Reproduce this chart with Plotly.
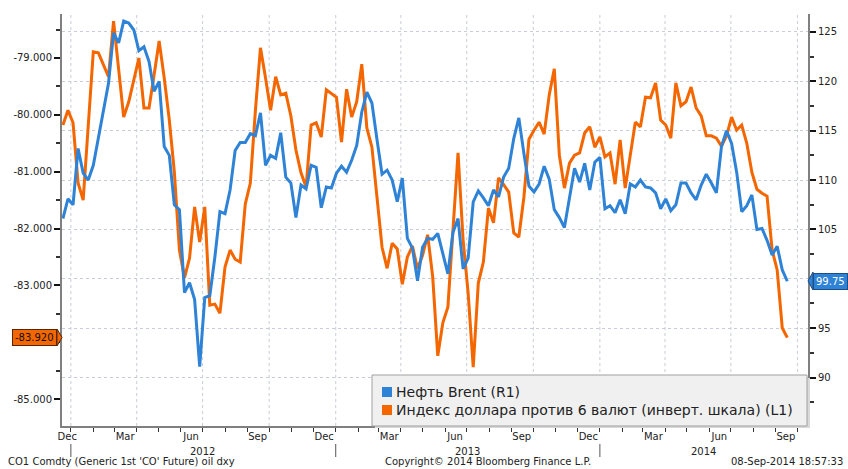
import plotly.graph_objects as go
import pandas as pd

# ---------------- data (weekly) ----------------
dates = pd.date_range('2011-12-21', periods=144, freq='7D')

brent = [106.1, 108.1, 107.5, 113.2, 110.7, 110.0, 111.5, 114.4, 117.1, 119.8,
         124.9, 123.9, 126.1, 125.9, 125.2, 123.1, 123.5, 122.0, 119.0, 120.0,
         113.4, 112.5, 107.5, 107.0, 98.6, 99.6, 97.9, 91.1, 98.1, 98.3,
         102.2, 106.8, 106.6, 109.0, 113.0, 113.8, 113.8, 114.7, 114.5, 116.8,
         111.5, 112.5, 112.2, 114.8, 110.3, 109.7, 106.2, 109.5, 109.1, 111.5,
         111.3, 107.2, 109.3, 109.2, 110.7, 111.4, 110.8, 112.0, 113.5, 116.9,
         118.9, 117.8, 114.1, 110.6, 111.0, 110.0, 107.8, 110.2, 104.1, 103.1,
         99.8, 103.2, 104.1, 104.0, 104.6, 102.6, 100.5, 104.7, 106.1, 101.0,
         102.1, 107.8, 108.9, 108.2, 107.4, 109.0, 108.3, 110.3, 111.2, 114.2,
         116.3, 112.7, 109.4, 108.8, 109.6, 111.4, 110.1, 107.0, 106.2, 105.2,
         108.3, 111.2, 109.8, 111.7, 109.0, 111.8, 112.3, 107.1, 107.4, 106.7,
         108.0, 106.6, 109.6, 109.3, 110.0, 109.3, 109.2, 108.7, 107.1, 108.1,
         106.9, 107.5, 109.7, 109.7, 108.7, 108.0, 109.5, 110.6, 109.7, 108.7,
         113.4, 115.0, 113.7, 110.8, 106.8, 107.4, 108.5, 105.0, 105.1, 103.9,
         102.4, 103.3, 100.9, 99.75]

dxy_inv = [-80.18, -79.92, -80.14, -81.20, -81.50, -80.21, -78.89, -78.91, -79.12, -79.33,
           -78.35, -79.25, -80.04, -79.77, -79.39, -79.00, -79.88, -79.88, -79.30, -78.70,
           -79.35, -80.09, -81.01, -82.38, -82.87, -82.52, -81.62, -82.24, -81.62, -83.35,
           -83.33, -83.49, -82.68, -82.38, -82.54, -82.59, -81.57, -81.20, -79.92, -78.82,
           -79.35, -79.92, -79.33, -79.65, -79.62, -80.02, -80.62, -81.02, -81.27, -80.18,
           -80.14, -80.39, -79.56, -79.62, -79.69, -80.48, -79.55, -80.04, -79.77, -79.11,
           -80.23, -80.57, -81.45, -82.33, -82.70, -82.26, -82.36, -82.98, -82.50, -82.31,
           -82.71, -82.47, -82.11, -82.85, -84.24, -83.66, -83.38, -82.08, -80.67, -82.20,
           -83.14, -84.44, -82.96, -82.59, -81.64, -81.90, -81.11, -81.23, -81.36, -82.08,
           -82.15, -81.45, -80.43, -80.27, -80.13, -80.34, -79.65, -79.19, -80.71, -81.29,
           -80.85, -80.71, -80.67, -80.32, -80.21, -80.57, -80.39, -80.74, -80.67, -81.22,
           -80.44, -81.29, -80.67, -80.13, -80.21, -79.69, -79.70, -79.44, -80.09, -80.18,
           -80.41, -79.44, -79.84, -79.77, -79.51, -79.88, -80.02, -80.37, -80.37, -80.41,
           -80.55, -80.37, -80.04, -80.27, -80.18, -80.50, -81.01, -81.31, -81.38, -81.43,
           -82.38, -82.73, -83.75, -83.92]

series_names = ['Нефть Brent (R1)', 'Индекс доллара против 6 валют (инверт. шкала) (L1)']

month_tick_dates = ['2011-12-27', '2012-03-16', '2012-06-15', '2012-09-15',
                    '2012-12-16', '2013-03-16', '2013-06-15', '2013-09-15',
                    '2013-12-16', '2014-03-16', '2014-06-15', '2014-09-15']
month_tick_labels = ['Dec', 'Mar', 'Jun', 'Sep', 'Dec', 'Mar', 'Jun', 'Sep',
                     'Dec', 'Mar', 'Jun', 'Sep']
year_labels = ['2012', '2013', '2014']
year_label_dates = ['2012-07-01', '2013-07-02', '2014-05-24']
year_starts = ['2012-01-01', '2013-01-01', '2014-01-01']

left_ticks = [-85, -84, -83, -82, -81, -80, -79]
# the -84.000 label sits under the last-value tag in the reference
left_tick_labels = ['-85.000', '', '-83.000', '-82.000', '-81.000', '-80.000', '-79.000']
right_ticks = [90, 95, 100, 105, 110, 115, 120, 125]
# the 100 label sits under the last-value tag in the reference
right_tick_labels = ['90', '95', '', '105', '110', '115', '120', '125']

last_brent_label = '99.75'
last_dxy_label = '-83.920'

footer_left = "CO1 Comdty (Generic 1st 'CO' Future) oil dxy"
footer_mid = 'Copyright© 2014 Bloomberg Finance L.P.'
footer_right = '08-Sep-2014 18:57:33'

# ---------------- styling ----------------
BLUE = '#2f83d6'
ORANGE = '#f36600'
GRID = '#c8ccd8'
AXIS = '#808080'
FONT = 'DejaVu Sans'
TXT = '#222222'

W, H = 848, 469
ML, MR, MT, MB = 62, 40, 14, 43
PW, PH = W - ML - MR, H - MT - MB


def px(x):
    return (x - ML) / PW


def py(y):
    return (MT + PH - y) / PH


month_starts = pd.date_range('2012-01-01', '2014-10-01', freq='MS')
quarter_starts = pd.date_range('2012-01-01', '2014-10-01', freq='QS')

fig = go.Figure()
fig.add_trace(go.Scatter(x=dates, y=dxy_inv, mode='lines', name=series_names[1],
                         line=dict(color=ORANGE, width=3), yaxis='y', showlegend=False))
fig.add_trace(go.Scatter(x=dates, y=brent, mode='lines', name=series_names[0],
                         line=dict(color=BLUE, width=3), yaxis='y2', showlegend=False))

shapes = []
for q in quarter_starts:
    shapes.append(dict(type='line', xref='x', yref='paper', x0=q, x1=q, y0=0, y1=1,
                       line=dict(color=GRID, width=1, dash='dot'), layer='below'))
for ys in year_starts:
    shapes.append(dict(type='line', xref='x', yref='paper', x0=ys, x1=ys,
                       y0=py(444), y1=py(457), line=dict(color='#555555', width=1)))

# legend box
shapes.append(dict(type='rect', xref='paper', yref='paper', x0=px(375), x1=px(810),
                   y0=py(378), y1=py(428), fillcolor='#d9d9d9', line=dict(width=0), layer='above'))
shapes.append(dict(type='rect', xref='paper', yref='paper', x0=px(372), x1=px(807),
                   y0=py(375), y1=py(426), fillcolor='#f0f0f0',
                   line=dict(color='#a0a0a0', width=1), layer='above'))
shapes.append(dict(type='rect', xref='paper', yref='paper', x0=px(382), x1=px(392),
                   y0=py(387), y1=py(397), fillcolor=BLUE, line=dict(width=0), layer='above'))
shapes.append(dict(type='rect', xref='paper', yref='paper', x0=px(382), x1=px(392),
                   y0=py(405), y1=py(415), fillcolor=ORANGE, line=dict(width=0), layer='above'))

# last value pointers
shapes.append(dict(type='path', xref='paper', yref='paper',
                   path=f'M {px(57)},{py(329)} L {px(62)},{py(337.5)} L {px(57)},{py(346)} Z',
                   fillcolor=ORANGE, line=dict(color='#5a2600', width=1), layer='above'))
shapes.append(dict(type='path', xref='paper', yref='paper',
                   path=f'M {px(813)},{py(272)} L {px(808)},{py(281)} L {px(813)},{py(290)} Z',
                   fillcolor=BLUE, line=dict(color='#1d4f86', width=1), layer='above'))

annotations = []
for lab, d in zip(year_labels, year_label_dates):
    annotations.append(dict(x=d, xref='x', y=py(451), yref='paper', text=lab,
                            showarrow=False, font=dict(family=FONT, size=10, color=TXT),
                            xanchor='center', yanchor='middle'))
annotations.append(dict(x=px(6), xref='paper', y=py(461), yref='paper', text=footer_left,
                        showarrow=False, xanchor='left', yanchor='middle',
                        font=dict(family=FONT, size=10, color=TXT)))
annotations.append(dict(x=px(488), xref='paper', y=py(461), yref='paper', text=footer_mid,
                        showarrow=False, xanchor='center', yanchor='middle',
                        font=dict(family=FONT, size=10, color=TXT)))
annotations.append(dict(x=px(845), xref='paper', y=py(461), yref='paper', text=footer_right,
                        showarrow=False, xanchor='right', yanchor='middle',
                        font=dict(family=FONT, size=10, color=TXT)))
annotations.append(dict(x=px(394), xref='paper', y=py(392), yref='paper', text=series_names[0],
                        showarrow=False, xanchor='left', yanchor='middle',
                        font=dict(family=FONT, size=14, color=TXT)))
annotations.append(dict(x=px(394), xref='paper', y=py(410), yref='paper', text=series_names[1],
                        showarrow=False, xanchor='left', yanchor='middle',
                        font=dict(family=FONT, size=14, color=TXT)))
annotations.append(dict(x=0, xref='paper', xshift=-5, y=dxy_inv[-1], yref='y',
                        text=last_dxy_label, showarrow=False, xanchor='right', yanchor='middle',
                        bgcolor=ORANGE, bordercolor='#5a2600', borderwidth=1, borderpad=2,
                        font=dict(family=FONT, size=10, color='#111111')))
annotations.append(dict(x=1, xref='paper', xshift=5, y=brent[-1], yref='y2',
                        text=last_brent_label, showarrow=False, xanchor='left', yanchor='middle',
                        bgcolor=BLUE, bordercolor='#1d4f86', borderwidth=1, borderpad=2,
                        font=dict(family=FONT, size=10, color='white')))

fig.update_layout(
    width=W, height=H,
    margin=dict(l=ML, r=MR, t=MT, b=MB, pad=0),
    paper_bgcolor='white', plot_bgcolor='white',
    showlegend=False,
    font=dict(family=FONT, size=10, color=TXT),
    xaxis=dict(range=['2011-12-19 18:00', '2014-10-15 14:00'], type='date',
               tickvals=month_tick_dates, ticktext=month_tick_labels, ticks='',
               showgrid=False, zeroline=False, showline=True, linecolor=AXIS, linewidth=2,
               tickfont=dict(family=FONT, size=10, color=TXT),
               minor=dict(tickvals=list(month_starts), ticks='outside', ticklen=4,
                          tickwidth=1, tickcolor='#333333', showgrid=False)),
    yaxis=dict(range=[-85.475, -78.226], tickvals=left_ticks, ticktext=left_tick_labels,
               ticks='outside', ticklen=6, tickwidth=2, tickcolor='#111111',
               showgrid=False, zeroline=False, showline=True, linecolor=AXIS, linewidth=2,
               tickfont=dict(family=FONT, size=10, color=TXT),
               minor=dict(dtick=0.5, ticks='outside', ticklen=4, tickcolor='#333333',
                          showgrid=False)),
    yaxis2=dict(range=[85.09, 126.82], overlaying='y', side='right', tickvals=right_ticks,
                ticktext=right_tick_labels,
                ticks='outside', ticklen=6, tickwidth=2, tickcolor='#111111',
                showgrid=True, gridcolor=GRID, griddash='dot', gridwidth=1,
                zeroline=False, showline=True, linecolor=AXIS, linewidth=2,
                tickfont=dict(family=FONT, size=10, color=TXT),
                minor=dict(dtick=2.5, ticks='outside', ticklen=4, tickcolor='#333333',
                           showgrid=False)),
    shapes=shapes,
    annotations=annotations,
)

fig.write_html('out.html', config={'displayModeBar': False, 'staticPlot': True},
               post_script="document.body.style.margin='0';document.body.style.overflow='hidden';")
